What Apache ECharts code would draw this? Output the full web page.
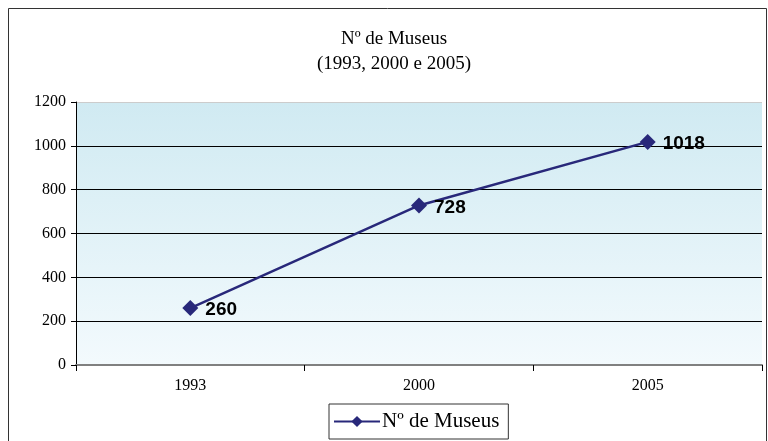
<!DOCTYPE html>
<html><head><meta charset="utf-8">
<script src="https://cdn.jsdelivr.net/npm/echarts@6/dist/echarts.min.js"></script>
<style>html,body{margin:0;padding:0;background:#fff}#c{width:768px;height:441px}</style>
</head><body><div id="c"></div>
<script>
const categories = ['1993', '2000', '2005'];
const museus = [260, 728, 1018];
const yTicks = [0, 200, 400, 600, 800, 1000, 1200];

const chart = echarts.init(document.getElementById('c'));
const serif = '"Liberation Serif", "DejaVu Serif", serif';
chart.setOption({
  animation: false,
  title: {
    text: 'Nº de Museus\n(1993, 2000 e 2005)',
    left: 389, top: 22, padding: 5, textAlign: 'center',
    textStyle: { fontFamily: serif, fontWeight: 'normal', fontSize: 19, color: '#000', lineHeight: 25 }
  },
  graphic: [{
    type: 'rect', shape: { x: 8.5, y: 8.5, width: 758, height: 460 },
    style: { fill: null, stroke: '#333', lineWidth: 1 }, silent: true, z: 100
  }],
  legend: {
    bottom: 2, left: 329,
    data: ['Nº de Museus'],
    borderColor: '#333', borderWidth: 1, padding: [7, 9, 7, 4],
    itemWidth: 46, itemHeight: 14, itemGap: 4,
    textStyle: { fontFamily: serif, fontSize: 21, color: '#000', padding: [0, 0, 0, -3] }
  },
  grid: {
    left: 76, right: 6, top: 102, bottom: 76, show: true, borderWidth: 0,
    backgroundColor: new echarts.graphic.LinearGradient(0, 0, 0, 1, [
      { offset: 0, color: '#d0eaf2' }, { offset: 1, color: '#f3fafd' }
    ])
  },
  xAxis: {
    type: 'category', data: categories, boundaryGap: true,
    axisLine: { lineStyle: { color: '#808080', width: 2 } },
    axisTick: { show: true, length: 6, lineStyle: { color: '#000' } },
    axisLabel: { fontFamily: serif, fontSize: 16, color: '#000', margin: 13 }
  },
  yAxis: {
    type: 'value', min: 0, max: 1200, interval: 200,
    axisLine: { show: true, lineStyle: { color: '#000' } },
    axisTick: { show: true, length: 5, lineStyle: { color: '#000' } },
    axisLabel: { fontFamily: serif, fontSize: 16, color: '#000', margin: 10,
      formatter: v => yTicks.includes(v) ? String(v) : '' },
    splitLine: { show: true, lineStyle: { color: ['#000', '#000', '#000', '#000', '#000', '#000', '#ccc'], width: 1 } }
  },
  series: [{
    name: 'Nº de Museus', type: 'line', data: museus,
    symbol: 'diamond', symbolSize: 16,
    lineStyle: { color: '#28287a', width: 2.5 },
    itemStyle: { color: '#28287a' },
    label: { show: true, position: 'right', distance: 7, offset: [0, 2],
      fontFamily: '"Liberation Sans", Arial, sans-serif', fontWeight: 'bold', fontSize: 19, color: '#000' }
  }]
});
</script></body></html>
